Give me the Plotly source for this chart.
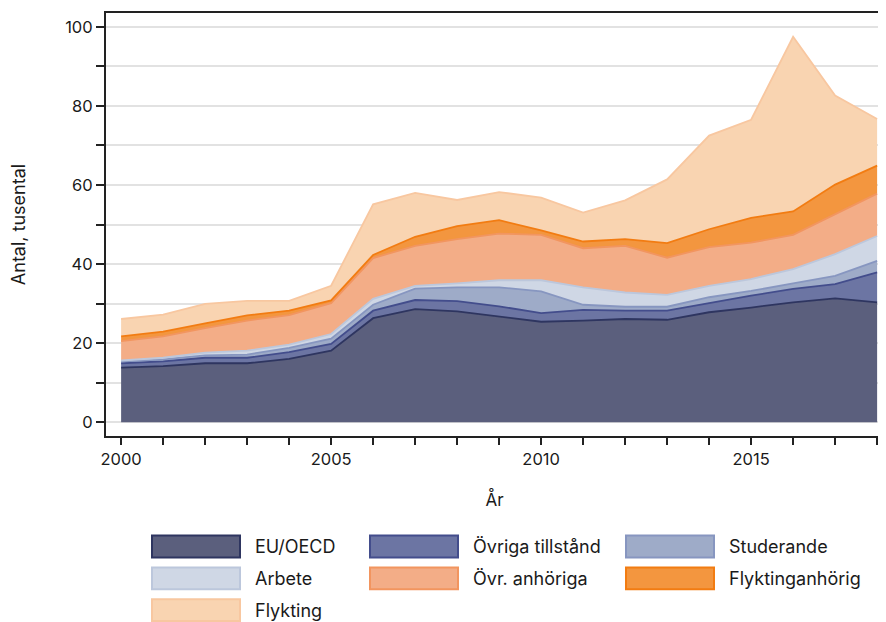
import plotly.graph_objects as go

years = list(range(2000, 2019))

eu_oecd = [13.8, 14.2, 14.9, 14.9, 16.0, 18.1, 26.3, 28.6, 28.0, 26.7, 25.4, 25.7, 26.1, 25.9, 27.8, 29.0, 30.3, 31.3, 30.3]
ovriga_tillstand = [1.1, 1.2, 1.4, 1.4, 1.7, 1.7, 1.9, 2.3, 2.6, 2.6, 2.2, 2.7, 2.1, 2.3, 2.3, 3.0, 3.4, 3.6, 7.6]
studerande = [0.4, 0.5, 0.6, 0.8, 1.1, 1.3, 1.5, 2.9, 3.5, 4.8, 5.5, 1.3, 1.0, 1.0, 1.5, 1.2, 1.4, 2.1, 2.9]
arbete = [0.3, 0.4, 0.7, 1.0, 0.8, 1.2, 1.5, 0.7, 1.0, 1.8, 2.8, 4.4, 3.6, 3.0, 2.9, 3.0, 3.6, 5.5, 6.3]
ovr_anhoriga = [4.9, 5.4, 6.2, 7.6, 7.5, 7.8, 10.3, 10.1, 11.2, 11.8, 11.5, 9.9, 11.8, 9.4, 9.8, 9.2, 8.7, 10.1, 10.7]
flyktinganhorig = [1.2, 1.2, 1.2, 1.3, 1.1, 0.7, 0.8, 2.3, 3.3, 3.4, 1.1, 1.7, 1.7, 3.7, 4.5, 6.3, 5.9, 7.5, 7.1]
flykting = [4.4, 4.3, 4.9, 3.7, 2.5, 3.7, 12.8, 11.1, 6.6, 7.1, 8.3, 7.3, 9.8, 16.1, 23.7, 24.8, 44.2, 22.5, 11.8]

series_names = ["EU/OECD", "Övriga tillstånd", "Studerande", "Arbete",
                "Övr. anhöriga", "Flyktinganhörig", "Flykting"]
series_values = [eu_oecd, ovriga_tillstand, studerande, arbete,
                 ovr_anhoriga, flyktinganhorig, flykting]

fill_colors = ["#5b5f7d", "#6c75a3", "#9eabc8", "#cfd7e5", "#f3ad87", "#f3963f", "#f9d4b1"]
line_colors = ["#2e3560", "#434d8c", "#8796c0", "#bcc7dc", "#f2955f", "#f27c12", "#f8c7a0"]

x_tickvals = [2000, 2005, 2010, 2015]
y_tickvals = [0, 20, 40, 60, 80, 100]

FONT = "Inter, Lato, sans-serif"
TXT = "#1a1a1a"

fig = go.Figure()
for name, vals, fc, lc in zip(series_names, series_values, fill_colors, line_colors):
    fig.add_trace(go.Scatter(
        x=years, y=vals, name=name, mode="lines",
        stackgroup="one", fillcolor=fc,
        line=dict(color=lc, width=1.8),
        showlegend=False,
    ))

# page has an 8px body margin; work in figure pixels
W, H = 878, 614
L, R, T, B = 98, 875, 3, 428

def px(xp):
    return (xp - L) / (R - L)

def py(yp):
    return (B - yp) / (B - T)

# manual legend (3 columns)
col_sw = [144, 362, 618]
row_c = [539, 571, 603]
shapes = []
annotations = []
for i, (name, fc, lc) in enumerate(zip(series_names, fill_colors, line_colors)):
    r, c = divmod(i, 3)
    x0 = col_sw[c]
    yc = row_c[r]
    shapes.append(dict(type="rect", xref="paper", yref="paper",
                       x0=px(x0), x1=px(x0 + 88), y0=py(yc + 11), y1=py(yc - 11),
                       fillcolor=fc, line=dict(color=lc, width=2)))
    annotations.append(dict(xref="paper", yref="paper", x=px(x0 + 101), y=py(yc),
                            text=name, showarrow=False, xanchor="left", yanchor="middle",
                            font=dict(family=FONT, size=18, color=TXT)))

fig.update_layout(
    width=W, height=H,
    margin=dict(l=L, r=W - R, t=T, b=H - B),
    paper_bgcolor="white", plot_bgcolor="white",
    font=dict(family=FONT, size=16, color=TXT),
    shapes=shapes, annotations=annotations,
    showlegend=False,
    xaxis=dict(
        range=[1999.64, 2018.14],
        tickvals=x_tickvals, ticktext=[str(v) for v in x_tickvals],
        ticks="outside", ticklen=7, tickwidth=1.5, tickcolor="#222",
        minor=dict(dtick=1, tick0=2000, ticks="outside", ticklen=7, tickwidth=1.5, tickcolor="#222", showgrid=False),
        showline=True, linecolor="#222", linewidth=2, mirror=True,
        showgrid=False, zeroline=False,
        title=dict(text="År", standoff=26, font=dict(family=FONT, size=17, color=TXT)),
        tickfont=dict(family=FONT, size=16.5, color=TXT),
    ),
    yaxis=dict(
        range=[-3.5, 103.5],
        tickvals=y_tickvals,
        ticks="outside", ticklen=8, tickwidth=1.5, tickcolor="#222",
        minor=dict(dtick=10, tick0=0, ticks="outside", ticklen=8, tickwidth=1.5, tickcolor="#222",
                   showgrid=True, gridcolor="#e2e2e2", gridwidth=2),
        showline=True, linecolor="#222", linewidth=2,
        showgrid=True, gridcolor="#e2e2e2", gridwidth=2, zeroline=False,
        title=dict(text="Antal, tusental", standoff=36, font=dict(family=FONT, size=18, color=TXT)),
        tickfont=dict(family=FONT, size=16.5, color=TXT),
    ),
)

fig.write_html("out.html")
